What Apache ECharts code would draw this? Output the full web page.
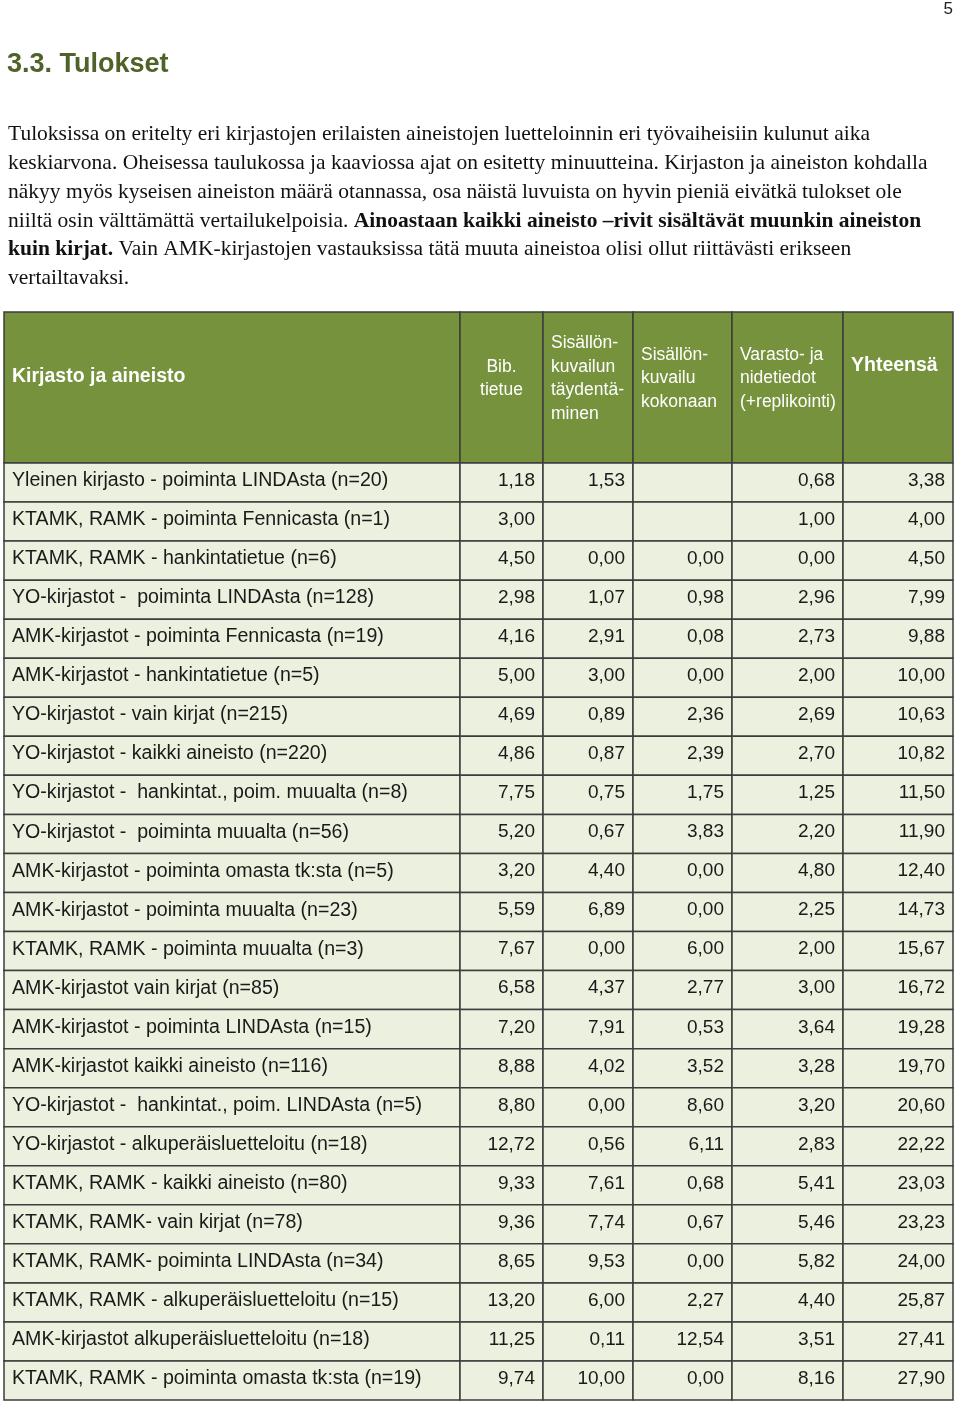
<!DOCTYPE html>
<html><head><meta charset="utf-8">
<script src="https://cdn.jsdelivr.net/npm/echarts@6/dist/echarts.min.js"></script>
<style>html,body{margin:0;padding:0;background:#fff}#c{width:960px;height:1405px}</style>
</head><body><div id="c"></div>
<script>
// ---------- DATA ----------
const pageNumber = '5';
const heading = '3.3. Tulokset';
const paragraphLines = [
  [['n', 'Tuloksissa on eritelty eri kirjastojen erilaisten aineistojen luetteloinnin eri työvaiheisiin kulunut aika']],
  [['n', 'keskiarvona. Oheisessa taulukossa ja kaaviossa ajat on esitetty minuutteina. Kirjaston ja aineiston kohdalla']],
  [['n', 'näkyy myös kyseisen aineiston määrä otannassa, osa näistä luvuista on hyvin pieniä eivätkä tulokset ole']],
  [['n', 'niiltä osin välttämättä vertailukelpoisia. '], ['b', 'Ainoastaan kaikki aineisto –rivit sisältävät muunkin aineiston']],
  [['b', 'kuin kirjat.'], ['n', ' Vain AMK-kirjastojen vastauksissa tätä muuta aineistoa olisi ollut riittävästi erikseen']],
  [['n', 'vertailtavaksi.']]
];
const headerLabels = [
  'Kirjasto ja aineisto',
  'Bib.\ntietue',
  'Sisällön-\nkuvailun\ntäydentä-\nminen',
  'Sisällön-\nkuvailu\nkokonaan',
  'Varasto- ja\nnidetiedot\n(+replikointi)',
  'Yhteensä'
];
const rowLabels = [
  'Yleinen kirjasto - poiminta LINDAsta (n=20)',
  'KTAMK, RAMK - poiminta Fennicasta (n=1)',
  'KTAMK, RAMK - hankintatietue (n=6)',
  'YO-kirjastot -  poiminta LINDAsta (n=128)',
  'AMK-kirjastot - poiminta Fennicasta (n=19)',
  'AMK-kirjastot - hankintatietue (n=5)',
  'YO-kirjastot - vain kirjat (n=215)',
  'YO-kirjastot - kaikki aineisto (n=220)',
  'YO-kirjastot -  hankintat., poim. muualta (n=8)',
  'YO-kirjastot -  poiminta muualta (n=56)',
  'AMK-kirjastot - poiminta omasta tk:sta (n=5)',
  'AMK-kirjastot - poiminta muualta (n=23)',
  'KTAMK, RAMK - poiminta muualta (n=3)',
  'AMK-kirjastot vain kirjat (n=85)',
  'AMK-kirjastot - poiminta LINDAsta (n=15)',
  'AMK-kirjastot kaikki aineisto (n=116)',
  'YO-kirjastot -  hankintat., poim. LINDAsta (n=5)',
  'YO-kirjastot - alkuperäisluetteloitu (n=18)',
  'KTAMK, RAMK - kaikki aineisto (n=80)',
  'KTAMK, RAMK- vain kirjat (n=78)',
  'KTAMK, RAMK- poiminta LINDAsta (n=34)',
  'KTAMK, RAMK - alkuperäisluetteloitu (n=15)',
  'AMK-kirjastot alkuperäisluetteloitu (n=18)',
  'KTAMK, RAMK - poiminta omasta tk:sta (n=19)'
];
const bibTietue     = [1.18, 3.00, 4.50, 2.98, 4.16, 5.00, 4.69, 4.86, 7.75, 5.20, 3.20, 5.59, 7.67, 6.58, 7.20, 8.88, 8.80, 12.72, 9.33, 9.36, 8.65, 13.20, 11.25, 9.74];
const taydentaminen = [1.53, null, 0.00, 1.07, 2.91, 3.00, 0.89, 0.87, 0.75, 0.67, 4.40, 6.89, 0.00, 4.37, 7.91, 4.02, 0.00, 0.56, 7.61, 7.74, 9.53, 6.00, 0.11, 10.00];
const kokonaan      = [null, null, 0.00, 0.98, 0.08, 0.00, 2.36, 2.39, 1.75, 3.83, 0.00, 0.00, 6.00, 2.77, 0.53, 3.52, 8.60, 6.11, 0.68, 0.67, 0.00, 2.27, 12.54, 0.00];
const varasto       = [0.68, 1.00, 0.00, 2.96, 2.73, 2.00, 2.69, 2.70, 1.25, 2.20, 4.80, 2.25, 2.00, 3.00, 3.64, 3.28, 3.20, 2.83, 5.41, 5.46, 5.82, 4.40, 3.51, 8.16];
const yhteensa      = [3.38, 4.00, 4.50, 7.99, 9.88, 10.00, 10.63, 10.82, 11.50, 11.90, 12.40, 14.73, 15.67, 16.72, 19.28, 19.70, 20.60, 22.22, 23.03, 23.23, 24.00, 25.87, 27.41, 27.90];

// ---------- LAYOUT / STYLE ----------
const colEdges = [0, 456, 539, 629, 728, 839, 949];
const GREEN = '#76923C', LIGHT = '#EBF1DE', BORDER = '#3d3d3d';
const SANS = '"Liberation Sans", Arial, sans-serif';
const SERIF = '"Liberation Serif", "Times New Roman", serif';

const valueCols = [bibTietue, taydentaminen, kokonaan, varasto, yhteensa];
const fmt = v => (v === null || v === undefined) ? '' : v.toFixed(2).replace('.', ',');

const bodyCells = [];
rowLabels.forEach((lab, r) => {
  bodyCells.push({ value: [0, r], txt: lab });
  valueCols.forEach((arr, k) => bodyCells.push({ value: [k + 1, r], txt: fmt(arr[r]) }));
});
const headerCells = headerLabels.map((t, c) => ({ value: [c, 0], txt: t }));

function cellRect(api, c) {
  const r = api.value(1);
  const p0 = api.coord([colEdges[c], r]);
  const p1 = api.coord([colEdges[c + 1], r]);
  const h = api.size([0, 1])[1];
  return { x: p0[0], y: p0[1] - h / 2, w: p1[0] - p0[0], h: h, cy: p0[1] };
}

function renderBody(params, api) {
  const c = api.value(0);
  const b = cellRect(api, c);
  const txt = bodyCells[params.dataIndex].txt;
  return {
    type: 'group',
    children: [
      { type: 'rect', shape: { x: b.x, y: b.y, width: b.w, height: b.h },
        style: { fill: LIGHT, stroke: BORDER, lineWidth: 1.5 } },
      { type: 'text', style: {
          text: txt, x: c === 0 ? b.x + 8 : b.x + b.w - 8, y: b.cy - 1.8,
          align: c === 0 ? 'left' : 'right', verticalAlign: 'middle',
          fontFamily: SANS, fontSize: c === 0 ? 19.6 : 19, fill: '#1a1a1a' } }
    ]
  };
}

function renderHeader(params, api) {
  const c = api.value(0);
  const b = cellRect(api, c);
  const txt = headerCells[params.dataIndex].txt;
  const bold = (c === 0 || c === 5);
  let x = b.x + 8, align = 'left', y = b.cy - 9;
  if (c === 1) { x = b.x + b.w / 2; align = 'center'; }
  if (c === 5) { y = b.cy - 22; }
  if (c === 0) { y = b.cy - 10.5; }
  return {
    type: 'group',
    children: [
      { type: 'rect', shape: { x: b.x, y: b.y, width: b.w, height: b.h },
        style: { fill: GREEN, stroke: BORDER, lineWidth: 1.5 } },
      { type: 'text', style: {
          text: txt, x: x, y: y, align: align, verticalAlign: 'middle',
          fontFamily: SANS, fontSize: bold ? 19.5 : 17.5, fontWeight: bold ? 'bold' : 'normal',
          lineHeight: 23.6, fill: '#ffffff' } }
    ]
  };
}

const paraY = [133.5, 162.5, 191, 220, 248.5, 277.5];
const paraGraphics = paragraphLines.map((parts, i) => ({
  type: 'text', left: 8, top: paraY[i] - 12 + 2,
  style: {
    text: parts.map(p => '{' + p[0] + '|' + p[1] + '}').join(''),
    rich: {
      n: { fontFamily: SERIF, fontSize: 21.5, fill: '#111', lineHeight: 24 },
      b: { fontFamily: SERIF, fontSize: 21.5, fontWeight: 'bold', fill: '#111', lineHeight: 24 }
    }
  }
}));

const chart = echarts.init(document.getElementById('c'), null, { renderer: 'canvas' });
chart.setOption({
  animation: false,
  backgroundColor: '#fff',
  graphic: [
    { type: 'text', right: 7, top: 1, style: { text: pageNumber, fontFamily: SANS, fontSize: 17, fill: '#222' } },
    { type: 'text', left: 7, top: 51, style: { text: heading, fontFamily: SANS, fontSize: 27, fontWeight: 'bold', fill: '#4F6228' } }
  ].concat(paraGraphics),
  grid: [
    { left: 4, top: 312, width: 949, height: 151 },
    { left: 4, top: 463, width: 949, height: 937 }
  ],
  xAxis: [
    { gridIndex: 0, type: 'value', min: 0, max: 949, show: false },
    { gridIndex: 1, type: 'value', min: 0, max: 949, show: false }
  ],
  yAxis: [
    { gridIndex: 0, type: 'category', data: ['header'], inverse: true, show: false },
    { gridIndex: 1, type: 'category', data: rowLabels, inverse: true, show: false }
  ],
  series: [
    { type: 'custom', xAxisIndex: 0, yAxisIndex: 0, renderItem: renderHeader, data: headerCells, clip: false, silent: true },
    { type: 'custom', xAxisIndex: 1, yAxisIndex: 1, renderItem: renderBody, data: bodyCells, clip: false, silent: true }
  ]
});
</script>
</body></html>
